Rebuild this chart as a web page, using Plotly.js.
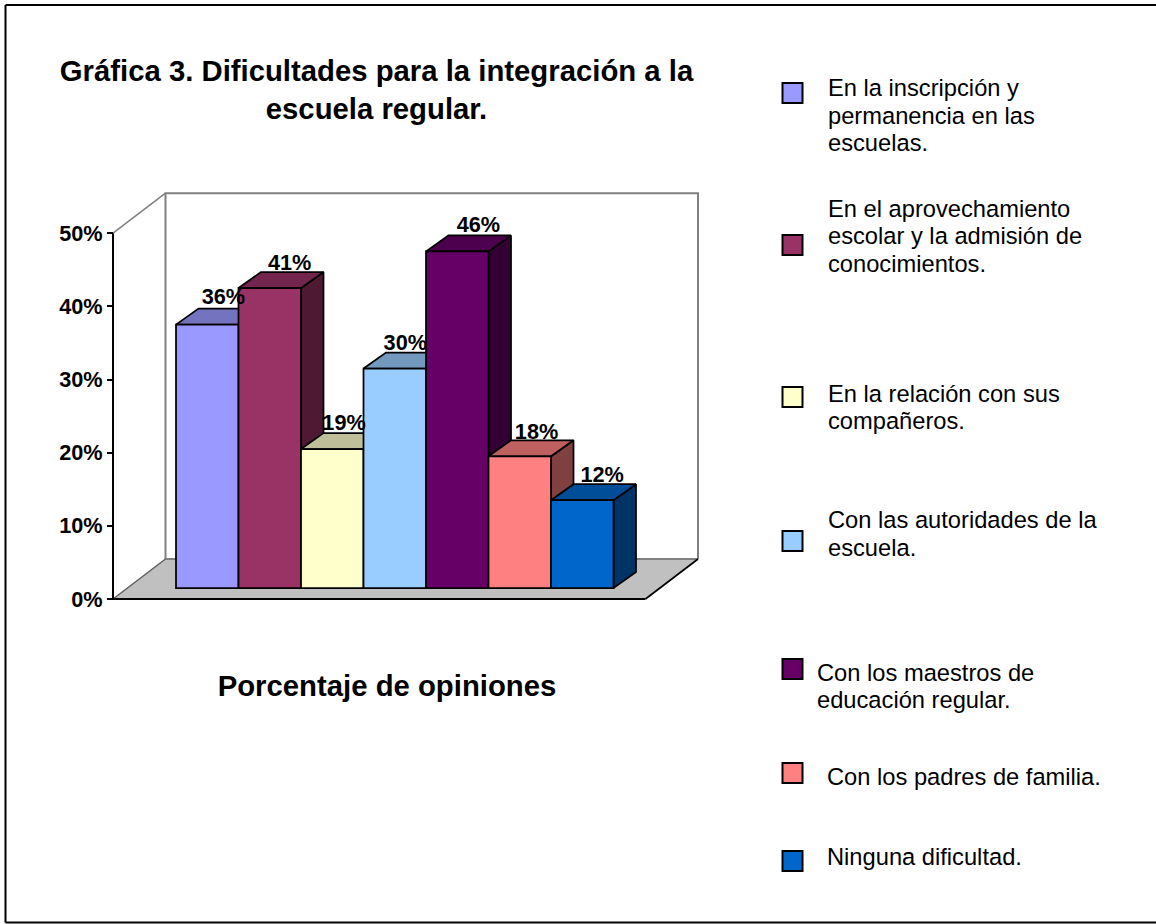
<!DOCTYPE html>
<html>
<head>
<meta charset="utf-8">
<script src="https://cdn.plot.ly/plotly-3.0.1.min.js"></script>
<style>html,body{margin:0;padding:0;background:#fff}</style>
</head>
<body>
<div id="chart" style="width:1156px;height:924px"></div>
<script>
// ---- data ----
const categories = [
  "En la inscripción y permanencia en las escuelas.",
  "En el aprovechamiento escolar y la admisión de conocimientos.",
  "En la relación con sus compañeros.",
  "Con las autoridades de la escuela.",
  "Con los maestros de educación regular.",
  "Con los padres de familia.",
  "Ninguna dificultad."
];
const values = [36, 41, 19, 30, 46, 18, 12];
const tickValues = [0, 10, 20, 30, 40, 50];
const tickLabels = ["0%", "10%", "20%", "30%", "40%", "50%"];

// ---- styles ----
const frontColors = ["#9999FF", "#993366", "#FFFFCC", "#99CCFF", "#660066", "#FF8080", "#0066CC"];
const topColors   = ["#7373BF", "#73264D", "#BFBF99", "#7399BF", "#4D004D", "#BF6060", "#004D99"];
const sideColors  = ["#4D4D80", "#4D1933", "#808066", "#4D6680", "#330033", "#804040", "#003366"];
const FONT = '"Liberation Sans", Arial, sans-serif';

// legend layout: wrapped lines with their pixel baselines, swatch top, text left
const legendLines = [
  {lines: ["En la inscripción y", "permanencia en las", "escuelas."], base: [95.5, 123, 150.5], sw: 83, left: 827},
  {lines: ["En el aprovechamiento", "escolar y la admisión de", "conocimientos."], base: [215.5, 243.5, 271.5], sw: 235, left: 827},
  {lines: ["En la relación con sus", "compañeros."], base: [400.5, 427.5], sw: 387, left: 827},
  {lines: ["Con las autoridades de la", "escuela."], base: [526.5, 554.5], sw: 531, left: 827},
  {lines: ["Con los maestros de", "educación regular."], base: [679.5, 707], sw: 659, left: 816},
  {lines: ["Con los padres de familia."], base: [783.5], sw: 763, left: 826},
  {lines: ["Ninguna dificultad."], base: [864], sw: 851, left: 826}
];

// ---- geometry of the pseudo-3D box ----
const W = 1156, H = 924;
const pxAxis = 113, pxZero = 599;
const pxLeft = 100, pxRight = 710, pxBottom = 606, pxTop = 186;
const unitPx = 62.5, x0Px = 207.25, pctPx = 7.316;
const xr = [(pxLeft - x0Px) / unitPx, (pxRight - x0Px) / unitPx];
const yr = [(pxZero - pxBottom) / pctPx, (pxZero - pxTop) / pctPx];
const floorLeft = (pxAxis - x0Px) / unitPx;
const floorRight = (645.5 - x0Px) / unitPx;
const boxDX = 52.5 / unitPx, boxDY = 40 / pctPx;
const barDX = 22.5 / unitPx, barDY = 16 / pctPx;
const barBase = 11 / pctPx;
const labelNudge = [-0.10, -0.04, -0.17, -0.19, -0.02, -0.09, -0.04];
const labelLift = [-0.05, -0.4, -0.4, -0.4, -0.3, -0.55, -0.4];

const poly = (xs, ys, fill, lineColor, lw) => ({
  type: "scatter", mode: "lines", x: xs, y: ys, xaxis: "x", yaxis: "y",
  fill: fill ? "toself" : "none", fillcolor: fill || undefined,
  line: {color: lineColor || "rgba(0,0,0,0)", width: lw === undefined ? 1.75 : lw},
  hoverinfo: "skip", showlegend: false, cliponaxis: false
});

const L = floorLeft, R = floorRight;
const traces = [];
// floor
traces.push(poly([L, R, R + boxDX, L + boxDX, L], [0, 0, boxDY, boxDY, 0], "#C0C0C0"));
// walls
traces.push(poly([L + boxDX, L + boxDX, R + boxDX, R + boxDX], [boxDY, 50 + boxDY, 50 + boxDY, boxDY], null, "#808080", 2));
traces.push(poly([L, L + boxDX], [50, 50 + boxDY], null, "#808080", 1.5));
traces.push(poly([L + boxDX, R + boxDX], [boxDY, boxDY], null, "#808080", 2));
traces.push(poly([L, L + boxDX], [0, boxDY], null, "#606060", 1.5));
traces.push(poly([R, R + boxDX], [0, boxDY], null, "#000000", 1.75));
// depth faces: side then top, left to right
values.forEach((v, i) => {
  const l = i - 0.5, r = i + 0.5, b = barBase, t = barBase + v;
  traces.push(poly([r, r + barDX, r + barDX, r, r], [b, b + barDY, t + barDY, t, b], sideColors[i], "#000000"));
  traces.push(poly([l, r, r + barDX, l + barDX, l], [t, t, t + barDY, t + barDY, t], topColors[i], "#000000"));
});
// axis lines
traces.push(poly([L, L], [0, 50], null, "#000000", 2));
traces.push(poly([L, R], [0, 0], null, "#000000", 2));
// carrier of the category-axis title, which is centred under the front of the floor
traces.push({type: "scatter", mode: "markers", x: [null], y: [null], xaxis: "x3", yaxis: "y", hoverinfo: "skip", showlegend: false});
// front faces
traces.push({
  type: "bar", x: values.map((_, i) => i), y: values, base: barBase, width: 1,
  xaxis: "x2", yaxis: "y2", customdata: categories,
  hovertemplate: "%{customdata}: %{y}%<extra></extra>",
  marker: {color: frontColors, line: {color: "#000000", width: 1.75}},
  showlegend: false
});
// value labels
traces.push({
  type: "scatter", mode: "text", xaxis: "x2", yaxis: "y2", cliponaxis: false,
  x: values.map((_, i) => i + barDX * 0.9 + labelNudge[i] + 0.035),
  y: values.map((v, i) => v + barBase + barDY + labelLift[i]),
  text: values.map(v => v + "%"), textposition: "top center",
  textfont: {family: FONT, size: 21.7, color: "#000000", weight: 700},
  hoverinfo: "skip", showlegend: false
});

const xDomain = [pxLeft / W, pxRight / W];
const yDomain = [1 - pxBottom / H, 1 - pxTop / H];
const px = v => v / W, py = v => 1 - v / H;

const shapes = [
  {type: "line", xref: "paper", yref: "paper", x0: px(5.5), x1: px(5.5), y0: py(5), y1: py(922.5), line: {color: "#000", width: 2}},
  {type: "line", xref: "paper", yref: "paper", x0: px(5.5), x1: 1, y0: py(5), y1: py(5), line: {color: "#000", width: 2}},
  {type: "line", xref: "paper", yref: "paper", x0: px(5.5), x1: 1, y0: py(922.5), y1: py(922.5), line: {color: "#000", width: 2}}
];
const annotations = [];
legendLines.forEach((e, i) => {
  shapes.push({type: "rect", xref: "paper", yref: "paper", x0: px(782.5), x1: px(802.5), y0: py(e.sw), y1: py(e.sw + 20),
    fillcolor: frontColors[i], line: {color: "#000", width: 2}});
  e.lines.forEach((t, j) => annotations.push({
    xref: "paper", yref: "paper", x: px(e.left), y: py(e.base[j] + 7), xanchor: "left", yanchor: "bottom",
    text: t, showarrow: false, borderpad: 0, align: "left",
    font: {family: FONT, size: 23.7, color: "#000000"}
  }));
});

const layout = {
  width: W, height: H, autosize: false,
  margin: {l: 0, r: 0, t: 0, b: 0, pad: 0},
  paper_bgcolor: "#FFFFFF", plot_bgcolor: "rgba(0,0,0,0)",
  showlegend: false, hovermode: "closest",
  title: {
    text: "Gráfica 3. Dificultades para la integración a la<br>escuela regular.",
    x: 376.5 / W, xanchor: "center", y: py(81), yanchor: "top",
    font: {family: FONT, size: 29.3, color: "#000000", weight: 700}
  },
  xaxis: {
    domain: xDomain, range: xr, showgrid: false, zeroline: false, showline: false,
    showticklabels: false, ticks: "", fixedrange: true
  },
  xaxis3: {
    domain: [pxAxis / W, 661 / W], anchor: "y", showgrid: false, zeroline: false, showline: false,
    showticklabels: false, ticks: "", fixedrange: true,
    title: {text: "Porcentaje de opiniones", standoff: 69, font: {family: FONT, size: 29.3, color: "#000000", weight: 700}}
  },
  yaxis: {
    domain: yDomain, range: yr, showgrid: false, zeroline: false, showline: false,
    anchor: "free", position: pxAxis / W,
    tickmode: "array", tickvals: tickValues, ticktext: tickLabels,
    ticks: "outside", ticklen: 6, tickwidth: 2, tickcolor: "#000000", fixedrange: true,
    tickfont: {family: FONT, size: 21.7, color: "#000000", weight: 700}
  },
  xaxis2: {domain: xDomain, range: xr, overlaying: "x", visible: false, fixedrange: true},
  yaxis2: {domain: yDomain, range: yr, overlaying: "y", visible: false, fixedrange: true},
  shapes, annotations
};
Plotly.newPlot("chart", traces, layout, {displayModeBar: false, responsive: false});
</script>
</body>
</html>
